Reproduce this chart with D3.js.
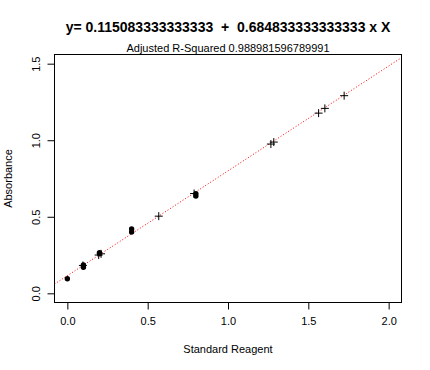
<!DOCTYPE html>
<html><head><meta charset="utf-8">
<script src="https://cdn.jsdelivr.net/npm/d3@7"></script>
<style>body{margin:0;background:#fff}svg{display:block;font-family:"Liberation Sans",Arial,sans-serif}text{white-space:pre}</style>
</head><body>
<svg id="c" width="430" height="370"></svg>
<script>
const titleText = "y= 0.115083333333333  +  0.684833333333333 x X";
const subtitleText = "Adjusted R-Squared 0.988981596789991";
const xLabel = "Standard Reagent";
const yLabel = "Absorbance";
const intercept = 0.115083333333333;
const slope = 0.684833333333333;
const xTicks = [0, 0.5, 1.0, 1.5, 2.0];
const yTicks = [0, 0.5, 1.0, 1.5];
// standards (filled circles)
const stdX = [0, 0.1, 0.1, 0.2, 0.2, 0.4, 0.4, 0.8, 0.8];
const stdY = [0.095, 0.17, 0.185, 0.258, 0.265, 0.40, 0.42, 0.635, 0.65];
// samples (plus signs)
const smpX = [0.097, 0.195, 0.21, 0.569, 0.789, 1.267, 1.285, 1.564, 1.603, 1.723];
const smpY = [0.182, 0.25, 0.258, 0.504, 0.652, 0.975, 0.988, 1.177, 1.208, 1.291];

const svg = d3.select("#c");
const L = 54.5, R = 401.5, T = 54.5, B = 302.5;
const x = d3.scaleLinear().domain([-0.08, 2.08]).range([L, R]);
const y = d3.scaleLinear().domain([-0.06, 1.56]).range([B, T]);
const FF = "Liberation Sans, Arial, sans-serif";

svg.append("defs").append("clipPath").attr("id","clip")
  .append("rect").attr("x",L).attr("y",T).attr("width",R-L).attr("height",B-T);

// regression line
svg.append("line").attr("clip-path","url(#clip)")
  .attr("x1", x(-0.08)).attr("y1", y(intercept + slope*-0.08))
  .attr("x2", x(2.08)).attr("y2", y(intercept + slope*2.08))
  .attr("stroke","#ff0000").attr("stroke-width",1).attr("stroke-dasharray","1,2");

// frame
svg.append("rect").attr("x",L).attr("y",T).attr("width",R-L).attr("height",B-T)
  .attr("fill","none").attr("stroke","#000").attr("stroke-width",1);

// axes
const xa = svg.append("g").attr("transform",`translate(0,${B})`)
  .call(d3.axisBottom(x).tickValues(xTicks).tickFormat(d3.format(".1f")).tickSize(7).tickPadding(8));
xa.select(".domain").attr("d", `M${x(0)},0H${x(2)}`);
xa.selectAll("text").attr("font-size",11).attr("fill","#000").attr("font-family",FF);

const ya = svg.append("g").attr("transform",`translate(${L},0)`)
  .call(d3.axisLeft(y).tickValues(yTicks).tickFormat(d3.format(".1f")).tickSize(7).tickPadding(0));
ya.select(".domain").attr("d", `M0,${y(0)}V${y(1.5)}`);
ya.selectAll(".tick text").attr("font-size",11).attr("fill","#000")
  .attr("font-family",FF)
  .attr("text-anchor","middle").attr("x",0).attr("dy",0)
  .attr("transform","translate(-15,0) rotate(-90)");

// points
svg.append("g").selectAll("circle").data(stdX.map((d,i)=>[d,stdY[i]])).join("circle")
  .attr("cx",d=>x(d[0])).attr("cy",d=>y(d[1])).attr("r",2.7).attr("fill","#000");
const s = 4;
svg.append("g").selectAll("path").data(smpX.map((d,i)=>[d,smpY[i]])).join("path")
  .attr("d",d=>{const cx=x(d[0]), cy=y(d[1]); return `M${cx-s},${cy}H${cx+s}M${cx},${cy-s}V${cy+s}`;})
  .attr("stroke","#000").attr("stroke-width",1).attr("fill","none");

// titles
svg.append("text").attr("x",(L+R)/2).attr("y",32).attr("text-anchor","middle")
  .attr("font-size",14).attr("font-weight","bold").text(titleText);
svg.append("text").attr("x",(L+R)/2).attr("y",51.5).attr("text-anchor","middle")
  .attr("font-size",11).text(subtitleText);
svg.append("text").attr("x",(L+R)/2).attr("y",353).attr("text-anchor","middle")
  .attr("font-size",11).text(xLabel);
svg.append("text").attr("transform",`translate(12,${(T+B)/2}) rotate(-90)`).attr("text-anchor","middle")
  .attr("font-size",11).text(yLabel);
</script>
</body></html>
